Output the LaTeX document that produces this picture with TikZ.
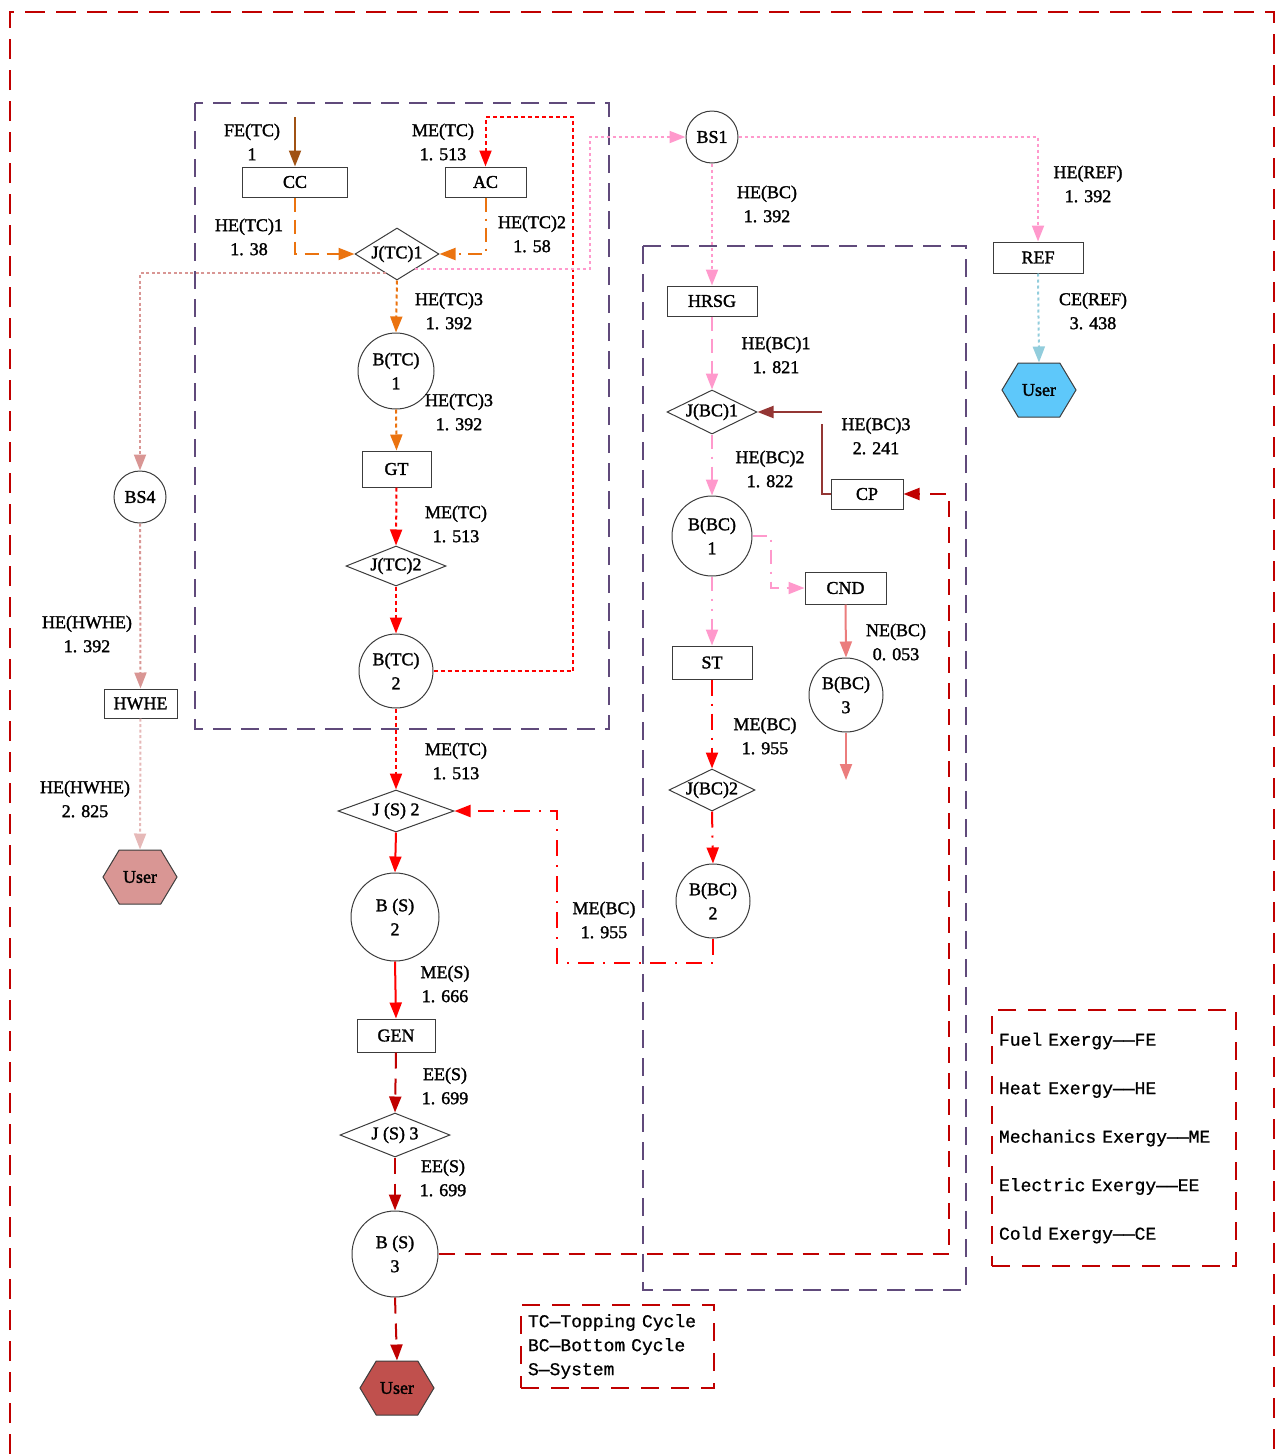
\documentclass[tikz,border=0pt]{standalone}
\usepackage{fontspec}
\setmainfont{Liberation Serif}[FakeBold=1.6]
\setmonofont{Liberation Mono}[FakeBold=0.8]
\usetikzlibrary{arrows.meta,shapes.geometric,shapes.symbols}

\definecolor{frameRed}{RGB}{192,0,0}
\definecolor{purp}{RGB}{96,74,123}
\definecolor{feBrown}{RGB}{160,82,20}
\definecolor{heOrange}{RGB}{235,115,15}
\definecolor{meRed}{RGB}{255,0,0}
\definecolor{eeRed}{RGB}{192,0,0}
\definecolor{hePink}{RGB}{255,153,204}
\definecolor{hwSalmon}{RGB}{217,150,148}
\definecolor{hwLight}{RGB}{230,185,184}
\definecolor{neSalmon}{RGB}{235,125,125}
\definecolor{ceBlue}{RGB}{146,205,220}
\definecolor{cpBrown}{RGB}{148,54,52}
\definecolor{userBlue}{RGB}{94,200,250}
\definecolor{userPink}{RGB}{217,150,148}
\definecolor{userRed}{RGB}{192,80,77}
\definecolor{edgeGray}{RGB}{60,60,60}

\tikzset{
  rbox/.style={draw=edgeGray, line width=1pt, rectangle, inner sep=0pt},
  cnode/.style={draw=edgeGray, line width=1pt, circle, inner sep=0pt, align=center},
  jdia/.style={draw=edgeGray, line width=1pt, diamond, inner sep=0pt},
  hexa/.style={draw=edgeGray, line width=1pt, signal, signal to=east and west,
    signal pointer angle=118, minimum width=74pt, minimum height=54pt, inner sep=0pt},
  val/.style={align=center, inner sep=0pt},
  conn/.style={line width=2pt, -{Triangle[length=16pt,width=12pt]}},
  feLine/.style={conn, feBrown},
  orDash/.style={conn, heOrange, dash pattern=on 14pt off 8pt},
  orDashDot/.style={conn, heOrange, dash pattern=on 14pt off 7pt on 2pt off 7pt},
  orDot/.style={conn, heOrange, dash pattern=on 4pt off 3pt},
  redDot/.style={conn, meRed, dash pattern=on 4pt off 3pt},
  redSolid/.style={conn, meRed},
  redDashDot/.style={conn, meRed, dash pattern=on 16pt off 8pt on 2pt off 8pt},
  redDDD/.style={conn, meRed, dash pattern=on 16pt off 9pt on 2pt off 9pt},
  eeDash/.style={conn, eeRed, dash pattern=on 16pt off 10pt},
  pinkDot/.style={conn, hePink, dash pattern=on 3pt off 3pt},
  pinkDash/.style={conn, hePink, dash pattern=on 14pt off 8pt},
  pinkDashDot/.style={conn, hePink, dash pattern=on 14pt off 8pt on 2pt off 8pt},
  pinkDDD/.style={conn, hePink, dash pattern=on 14pt off 8pt on 2pt off 8pt on 2pt off 8pt},
  hwDot/.style={conn, hwSalmon, dash pattern=on 3pt off 2.5pt},
  hwLightDot/.style={conn, hwLight, dash pattern=on 3pt off 2.5pt},
  neLine/.style={conn, neSalmon},
  ceDot/.style={conn, ceBlue, dash pattern=on 3pt off 3pt},
  cpLine/.style={conn, cpBrown, dash pattern=on 79pt off 12pt},
  groupFrame/.style={purp, line width=2pt, dash pattern=on 18pt off 10pt},
  outerFrame/.style={frameRed, line width=2pt, dash pattern=on 20pt off 11pt},
  legbox/.style={draw=frameRed, line width=1.5pt, dash pattern=on 18pt off 12pt,
    rectangle, align=left, inner xsep=7pt, inner ysep=0pt},
}

\begin{document}
\begin{tikzpicture}[x=1pt, y=-1pt, font=\fontsize{18}{24}\selectfont]
\useasboundingbox (0,0) rectangle (1278,1454);

% outer frame and cycle groups
\draw[outerFrame] (10,1454) -- (10,12) -- (1274,12) -- (1274,1454);
\draw[groupFrame] (195,103) rectangle (609,729);
\draw[groupFrame] (643,246) rectangle (966,1290);

% topping cycle
\coordinate (feIn) at (295,117);
\node[rbox, minimum width=105pt, minimum height=30pt] (cc) at (295,182) {CC};
\node[rbox, minimum width=81pt, minimum height=30pt] (ac) at (485.5,182) {AC};
\node[jdia, minimum width=84pt, minimum height=52pt, label=center:{J(TC)1}] (jtc1) at (397,254) {};
\node[cnode, minimum size=76pt] (btc1) at (396,371) {B(TC)\\1};
\node[rbox, minimum width=69pt, minimum height=36pt] (gt) at (396.5,469) {GT};
\node[jdia, minimum width=100pt, minimum height=40pt, label=center:{J(TC)2}] (jtc2) at (396,566) {};
\node[cnode, minimum size=74pt] (btc2) at (396,671) {B(TC)\\2};

% system
\node[jdia, minimum width=116pt, minimum height=42pt, label=center:{J (S) 2}] (js2) at (396,811) {};
\node[cnode, minimum size=88pt] (bs2) at (395,917) {B (S)\\2};
\node[rbox, minimum width=78pt, minimum height=33pt] (gen) at (396,1035.5) {GEN};
\node[jdia, minimum width=110pt, minimum height=44pt, label=center:{J (S) 3}] (js3) at (395,1135) {};
\node[cnode, minimum size=86pt] (bs3) at (395,1254) {B (S)\\3};
\node[hexa, fill=userRed] (userS) at (397,1388) {User};

% bottom cycle
\node[cnode, minimum size=52pt] (bs1) at (712,137) {BS1};
\node[rbox, minimum width=90pt, minimum height=30pt] (hrsg) at (712,301) {HRSG};
\node[jdia, minimum width=90pt, minimum height=44pt, label=center:{J(BC)1}] (jbc1) at (712,412) {};
\node[cnode, minimum size=80pt] (bbc1) at (712,536) {B(BC)\\1};
\node[rbox, minimum width=72pt, minimum height=30pt] (cp) at (867,494) {CP};
\node[rbox, minimum width=81pt, minimum height=32pt] (cnd) at (845.5,588) {CND};
\node[rbox, minimum width=80pt, minimum height=33pt] (st) at (712,662.5) {ST};
\node[cnode, minimum size=74pt] (bbc3) at (846,695) {B(BC)\\3};
\coordinate (neOut) at (846,780);
\node[jdia, minimum width=86pt, minimum height=42pt, label=center:{J(BC)2}] (jbc2) at (712,790) {};
\node[cnode, minimum size=74pt] (bbc2) at (713,901) {B(BC)\\2};

% refrigeration branch
\node[rbox, minimum width=90pt, minimum height=31pt] (ref) at (1038,257.5) {REF};
\node[hexa, fill=userBlue] (userC) at (1039,390) {User};

% hot water branch
\node[cnode, minimum size=52pt] (bs4) at (140,497) {BS4};
\node[rbox, minimum width=73pt, minimum height=29pt] (hwhe) at (140.5,703.5) {HWHE};
\node[hexa, fill=userPink] (userH) at (140,877) {User};

% flows
\draw[feLine] (feIn) -- (cc.north);
\draw[orDash] (cc.south) |- (jtc1.west);
\draw[orDashDot] (ac.south) |- (jtc1.east);
\draw[orDot] (jtc1.south) -- (btc1.north);
\draw[orDot] (btc1.south) -- (gt.north);
\draw[redDot] (gt.south) -- (jtc2.north);
\draw[redDot] (jtc2.south) -- (btc2.north);
\draw[redDot] (btc2.east) -| (573,117) -| (ac.north);
\draw[redDot] (btc2.south) -- (js2.north);
\draw[redSolid] (js2.south) -- (bs2.north);
\draw[redSolid] (bs2.south) -- (gen.north);
\draw[eeDash] (gen.south) -- (js3.north);
\draw[eeDash] (js3.south) -- (bs3.north);
\draw[eeDash] (bs3.south) -- (userS.north);
\draw[eeDash] (bs3.east) -- (949,1254) |- (cp.east);

\draw[hwDot] (jtc1.-120) -| (bs4.north);
\draw[hwDot] (bs4.south) -- (hwhe.north);
\draw[hwLightDot] (hwhe.south) -- (userH.north);

\draw[pinkDot] (jtc1.-40) -| (590,137) -- (bs1.west);
\draw[pinkDot] (bs1.east) -| (ref.north);
\draw[ceDot] (ref.south) -- (userC.north);
\draw[pinkDot] (bs1.south) -- (hrsg.north);
\draw[pinkDash] (hrsg.south) -- (jbc1.north);
\draw[pinkDashDot] (jbc1.south) -- (bbc1.north);
\draw[pinkDashDot] (bbc1.east) -- (771,536) |- (cnd.west);
\draw[pinkDDD] (bbc1.south) -- (st.north);
\draw[neLine] (cnd.south) -- (bbc3.north);
\draw[neLine] (bbc3.south) -- (neOut);
\draw[redDashDot] (st.south) -- (jbc2.north);
\draw[redDashDot] (jbc2.south) -- (bbc2.north);
\draw[redDDD] (bbc2.south) -- (713,963) -| (557,811) -- (js2.east);
\draw[cpLine] (cp.west) -| (822,412) -- (jbc1.east);

% flow values
\node[val] (vFE) at (252,142) {FE(TC)\\1};
\node[val] (vMEa) at (443,142) {ME(TC)\\1. 513};
\node[val] (vHE1) at (249,237) {HE(TC)1\\1. 38};
\node[val] (vHE2) at (532,234) {HE(TC)2\\1. 58};
\node[val] (vHE3a) at (449,311) {HE(TC)3\\1. 392};
\node[val] (vHE3b) at (459,412) {HE(TC)3\\1. 392};
\node[val] (vMEb) at (456,524) {ME(TC)\\1. 513};
\node[val] (vMEc) at (456,761) {ME(TC)\\1. 513};
\node[val] (vMES) at (445,984) {ME(S)\\1. 666};
\node[val] (vEEa) at (445,1086) {EE(S)\\1. 699};
\node[val] (vEEb) at (443,1178) {EE(S)\\1. 699};
\node[val] (vHWa) at (87,634) {HE(HWHE)\\1. 392};
\node[val] (vHWb) at (85,799) {HE(HWHE)\\2. 825};
\node[val] (vHEBC) at (767,204) {HE(BC)\\1. 392};
\node[val] (vHEBC1) at (776,355) {HE(BC)1\\1. 821};
\node[val] (vHEBC2) at (770,469) {HE(BC)2\\1. 822};
\node[val] (vHEBC3) at (876,436) {HE(BC)3\\2. 241};
\node[val] (vNE) at (896,642) {NE(BC)\\0. 053};
\node[val] (vMEBCa) at (765,736) {ME(BC)\\1. 955};
\node[val] (vMEBCb) at (604,920) {ME(BC)\\1. 955};
\node[val] (vHEREF) at (1088,184) {HE(REF)\\1. 392};
\node[val] (vCE) at (1093,311) {CE(REF)\\3. 438};

% legends
\node[legbox, minimum width=244pt, minimum height=256pt, text width=230pt,
  font=\fontsize{18}{48.5}\selectfont\ttfamily] (leg1) at (1114,1138)
  {Fuel Exergy——FE\\Heat Exergy——HE\\Mechanics Exergy——ME\\Electric Exergy——EE\\Cold Exergy——CE};
\node[legbox, minimum width=193pt, minimum height=83pt, text width=179pt,
  font=\fontsize{18}{24}\selectfont\ttfamily] (leg2) at (617.5,1346.5)
  {TC—Topping Cycle\\BC—Bottom Cycle\\S—System};
\end{tikzpicture}
\end{document}
